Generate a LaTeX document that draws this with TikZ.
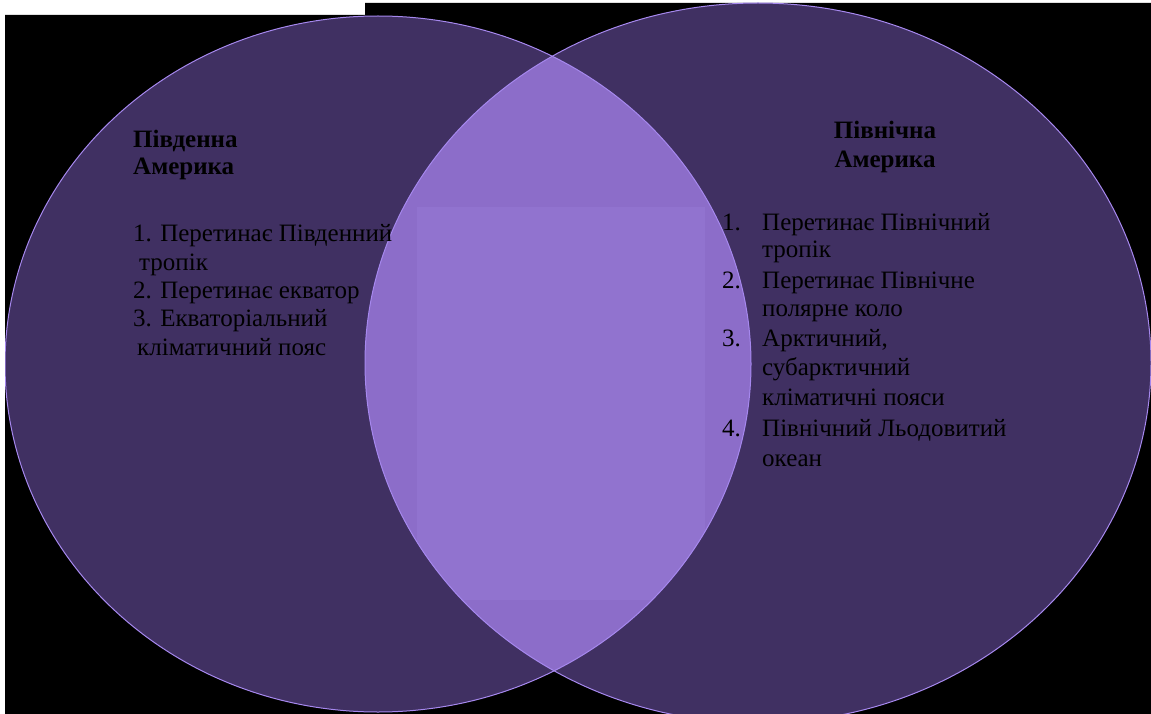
\documentclass[tikz,border=0pt]{standalone}
\usepackage{fontspec}
\setmainfont{Liberation Serif}
\definecolor{bgblack}{HTML}{000000}
\definecolor{circfill}{HTML}{403062}
\definecolor{lensfill}{HTML}{8C6DC9}
\definecolor{lensbox}{HTML}{9173CF}
\definecolor{circedge}{HTML}{A688EE}
\begin{document}
\begin{tikzpicture}[x=1pt,y=-1pt,
  txt/.style={anchor=base west,inner sep=0pt,font=\fontsize{25}{28}\selectfont,text=black},
  head/.style={anchor=base,inner sep=0pt,font=\fontsize{25}{28}\selectfont\bfseries,text=black},
  lhead/.style={anchor=base west,inner sep=0pt,font=\fontsize{25}{28}\selectfont\bfseries,text=black}]
\useasboundingbox (0,0) rectangle (1151,714);
\fill[white] (0,0) rectangle (1151,714);
\fill[bgblack] (5,15) -- (365,15) -- (365,3) -- (1151,3) -- (1151,714) -- (5,714) -- cycle;
\begin{scope}
\clip (5,3) rectangle (1151,714);
\fill[circfill] (378,364) ellipse [x radius=373, y radius=348];
\fill[circfill] (758,363) ellipse [x radius=393, y radius=360];
\begin{scope}
\clip (378,364) ellipse [x radius=373, y radius=348];
\fill[lensfill] (758,363) ellipse [x radius=393, y radius=360];
\clip (758,363) ellipse [x radius=393, y radius=360];
\fill[lensbox] (417,207) rectangle (705,600);
\end{scope}
\draw[circedge,line width=1pt] (378,364) ellipse [x radius=373, y radius=348];
\draw[circedge,line width=1pt] (758,363) ellipse [x radius=393, y radius=360];
\end{scope}
% left text
\node[lhead] (lh1) at (133,148) {Південна};
\node[lhead] (lh2) at (133,175) {Америка};
\node[txt] (l1) at (133,241) {1. Перетинає Південний};
\node[txt] (l1b) at (139,270) {тропік};
\node[txt] (l2) at (133,298) {2. Перетинає екватор};
\node[txt] (l3) at (133,326) {3. Екваторіальний};
\node[txt] (l3b) at (137,355) {кліматичний пояс};
% right text
\node[head] (rh1) at (885,139) {Північна};
\node[head] (rh2) at (885,168) {Америка};
\node[txt] (r1n) at (722,230) {1.};
\node[txt] (r1) at (762,230) {Перетинає Північний};
\node[txt] (r1b) at (762,258) {тропік};
\node[txt] (r2n) at (722,288) {2.};
\node[txt] (r2) at (762,288) {Перетинає Північне};
\node[txt] (r2b) at (762,316) {полярне коло};
\node[txt] (r3n) at (722,346) {3.};
\node[txt] (r3) at (762,346) {Арктичний,};
\node[txt] (r3b) at (762,375) {субарктичний};
\node[txt] (r3c) at (762,405) {кліматичні пояси};
\node[txt] (r4n) at (722,436) {4.};
\node[txt] (r4) at (762,436) {Північний Льодовитий};
\node[txt] (r4b) at (762,466) {океан};
\end{tikzpicture}
\end{document}
